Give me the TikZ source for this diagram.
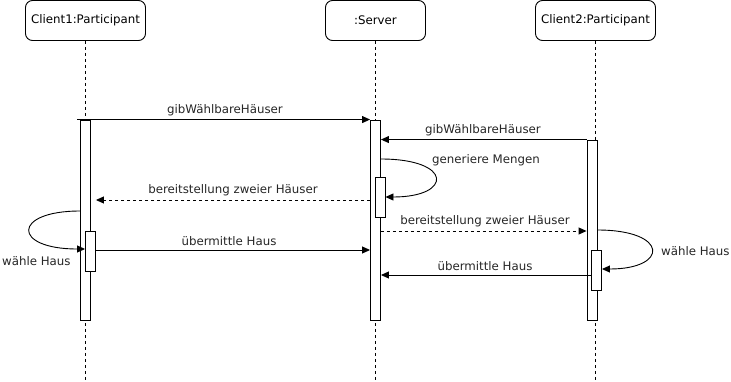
\documentclass[tikz,border=0pt]{standalone}
\usepackage{fontspec}
\setmainfont{DejaVu Sans}
\usetikzlibrary{arrows.meta,calc}
\begin{document}
\begin{tikzpicture}[x=1pt,y=-1pt,
  font=\fontsize{11.8}{14}\selectfont,
  participant/.style={draw, rounded corners=7pt, minimum width=120pt, minimum height=40pt, inner sep=0pt, line width=0.9pt},
  lifeline/.style={line width=0.9pt, dash pattern=on 3pt off 3pt},
  actbar/.style={draw, fill=white, minimum width=10pt, inner sep=0pt, line width=0.9pt},
  msg/.style={-{Triangle[length=8pt,width=7pt]}, line width=0.9pt},
  reply/.style={msg, dash pattern=on 3pt off 3pt},
  lbl/.style={inner sep=0pt, text=black!85}
]
\useasboundingbox (0,0) rectangle (731,381);

% participants
\node[participant] (c1) at (85.5,20.5) {Client1:Participant};
\node[participant, minimum width=100pt] (sv) at (375.5,20.5) {:Server};
\node[participant] (c2) at (595.5,20.5) {Client2:Participant};

% lifelines
\draw[lifeline] (c1.south) -- (c1.south |- 0,381);
\draw[lifeline] (sv.south) -- (sv.south |- 0,381);
\draw[lifeline] (c2.south) -- (c2.south |- 0,381);

% activation bars
\node[actbar, minimum height=200pt] (a1) at (85.5,220) {};
\node[actbar, minimum height=40pt] (a1b) at (90.5,251) {};
\node[actbar, minimum height=200pt] (s1) at (375.5,220) {};
\node[actbar, minimum height=40pt] (s1b) at (380,197) {};
\node[actbar, minimum height=180pt] (a2) at (592,230) {};
\node[actbar, minimum height=40pt] (a2b) at (596.5,270) {};

% requests for the selectable houses
\draw[msg] ($(a1.north west)+(-3,0)$) -- (s1.north west);
\node[lbl] (l1) at (225,110) {gibWählbareHäuser};
\draw[msg] (a2.north west) -- (s1.east |- a2.north);
\node[lbl] (l2) at (483,130) {gibWählbareHäuser};

% server generates the sets
\draw[msg] (s1.east |- 0,159) .. controls (453,159) and (453,197) .. (s1b.east |- 0,197);
\node[lbl, anchor=west] (l3) at (432,160) {generiere Mengen};

% server provides two houses
\draw[reply] (s1.west |- 0,200) -- (a1b.east |- 0,200);
\node[lbl] (l4) at (233,190) {bereitstellung zweier Häuser};
\draw[reply] (s1.east |- 0,231) -- (a2.west |- 0,231);
\node[lbl] (l5) at (485,221) {bereitstellung zweier Häuser};

% client 1 chooses and sends its house
\draw[msg] (a1.west |- 0,211) .. controls (12,211) and (12,249) .. (a1b.west |- 0,249);
\node[lbl, anchor=west] (l6) at (2,261) {wähle Haus};
\draw[msg] (a1b.east |- 0,250) -- (s1.west |- 0,250);
\node[lbl] (l7) at (229,241) {übermittle Haus};

% client 2 chooses and sends its house
\draw[msg] (a2.east |- 0,230) .. controls (669,230) and (669,269) .. (a2b.east |- 0,269);
\node[lbl, anchor=west] (l8) at (661,251) {wähle Haus};
\draw[msg] (a2b.west |- 0,275) -- (s1.east |- 0,275);
\node[lbl] (l9) at (485,266) {übermittle Haus};
\end{tikzpicture}
\end{document}
